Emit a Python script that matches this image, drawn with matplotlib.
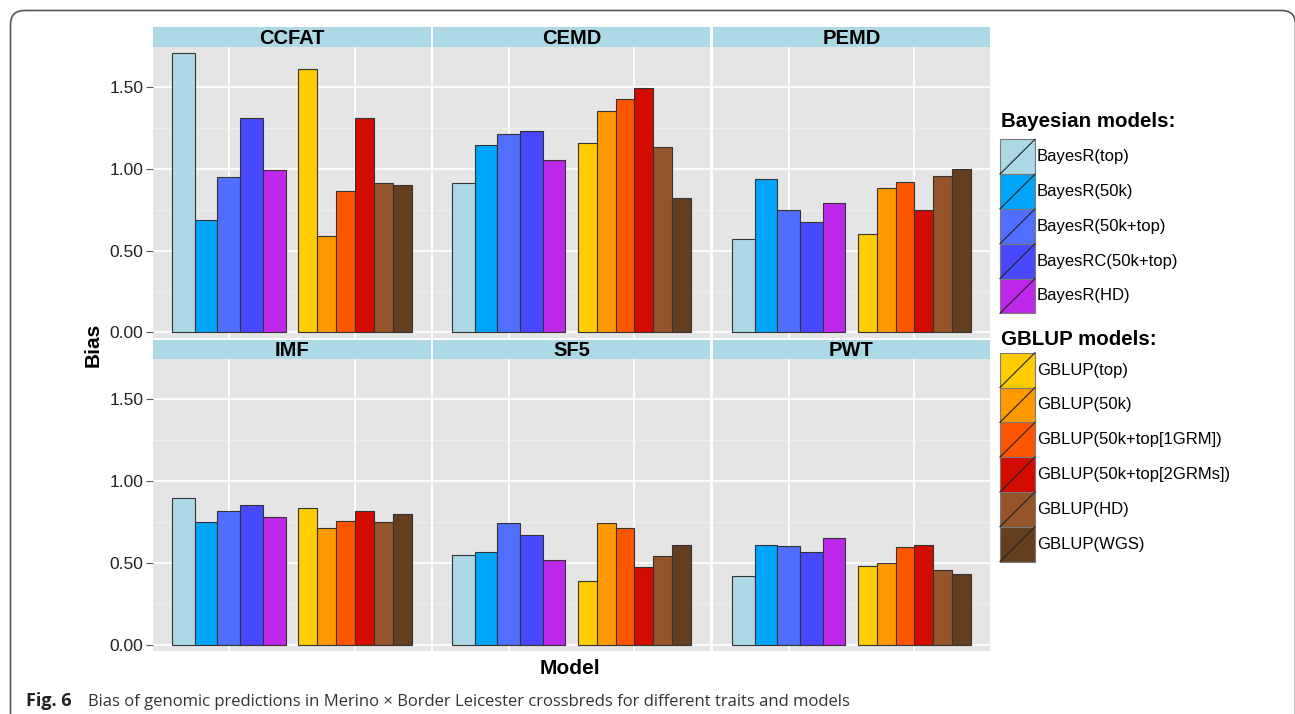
import matplotlib
matplotlib.use("Agg")
import matplotlib.pyplot as plt
from matplotlib.patches import FancyBboxPatch, Rectangle
import numpy as np

plt.rcParams["font.family"] = ["Liberation Sans", "DejaVu Sans"]

# ── data ──────────────────────────────────────────────────────────────────────
traits = ["CCFAT", "CEMD", "PEMD", "IMF", "SF5", "PWT"]

bayes_models = ["BayesR(top)", "BayesR(50k)", "BayesR(50k+top)",
                "BayesRC(50k+top)", "BayesR(HD)"]
gblup_models = ["GBLUP(top)", "GBLUP(50k)", "GBLUP(50k+top[1GRM])",
                "GBLUP(50k+top[2GRMs])", "GBLUP(HD)", "GBLUP(WGS)"]

bayes_colors = ["#ADD8E6", "#00A5FA", "#506EFF", "#4848FF", "#BE28EB"]
gblup_colors = ["#FFCC00", "#FF9900", "#FF5500", "#D40C00", "#94552B", "#633F20"]

ccfat_bayes = [1.709, 0.685, 0.951, 1.311, 0.990]
ccfat_gblup = [1.612, 0.587, 0.864, 1.311, 0.911, 0.902]
cemd_bayes = [0.912, 1.143, 1.212, 1.229, 1.055]
cemd_gblup = [1.161, 1.351, 1.427, 1.492, 1.131, 0.820]
pemd_bayes = [0.569, 0.939, 0.751, 0.673, 0.794]
pemd_gblup = [0.600, 0.884, 0.918, 0.747, 0.955, 1.002]
imf_bayes = [0.898, 0.754, 0.817, 0.858, 0.783]
imf_gblup = [0.835, 0.713, 0.758, 0.817, 0.754, 0.803]
sf5_bayes = [0.551, 0.569, 0.746, 0.673, 0.520]
sf5_gblup = [0.392, 0.746, 0.713, 0.480, 0.545, 0.610]
pwt_bayes = [0.423, 0.612, 0.608, 0.571, 0.652]
pwt_gblup = [0.486, 0.502, 0.600, 0.612, 0.459, 0.435]

bias_bayes = [ccfat_bayes, cemd_bayes, pemd_bayes, imf_bayes, sf5_bayes, pwt_bayes]
bias_gblup = [ccfat_gblup, cemd_gblup, pemd_gblup, imf_gblup, sf5_gblup, pwt_gblup]

yticks = [0.0, 0.5, 1.0, 1.5]

# ── figure in pixel units ─────────────────────────────────────────────────────
W, H = 1295, 714
fig = plt.figure(figsize=(W / 100, H / 100), dpi=100)
fig.patch.set_facecolor("white")

def px(x0, y0, x1, y1):
    return [x0 / W, 1 - y1 / H, (x1 - x0) / W, (y1 - y0) / H]

# overlay axes for frame, labels, legend
ov = fig.add_axes([0, 0, 1, 1])
ov.set_xlim(0, W)
ov.set_ylim(H, 0)
ov.axis("off")
ov.patch.set_alpha(0)

frame = FancyBboxPatch((10.5, 10.5), 1285, 800,
                       boxstyle="round,pad=0,rounding_size=14",
                       fc="none", ec="#555555", lw=1.2, clip_on=False)
ov.add_patch(frame)

cols = [(153, 431), (433, 710), (713, 990)]
rows = [((27, 47), (47, 338)), ((340, 359), (359, 651))]

EDGE = "#333333"

def dodge(center, n, total=0.9):
    w = total / n
    return center - total / 2 + w / 2 + w * np.arange(n), w

for k, trait in enumerate(traits):
    r, c = divmod(k, 3)
    (sy0, sy1), (py0, py1) = rows[r]
    x0, x1 = cols[c]

    ax = fig.add_axes(px(x0, py0, x1, py1))
    ax.set_facecolor("#E5E5E5")
    ax.set_xlim(0.4, 2.6)
    ax.set_ylim(-0.034, 1.745)
    ax.set_yticks(yticks)
    ax.set_yticks([0.25, 0.75, 1.25], minor=True)
    ax.set_xticks([1, 2])
    ax.grid(True, which="major", color="white", lw=1.3)
    ax.grid(True, which="minor", axis="y", color="#F2F2F2", lw=0.6)
    ax.set_axisbelow(True)
    for s in ax.spines.values():
        s.set_visible(False)
    ax.tick_params(axis="x", length=0, labelbottom=False)
    ax.tick_params(axis="y", which="minor", length=0)
    if c == 0:
        ax.set_yticklabels([f"{v:.2f}" for v in yticks])
        ax.tick_params(axis="y", which="major", length=5, color="#555555",
                       labelsize=12.5, labelcolor="#222222", pad=2)
    else:
        ax.tick_params(axis="y", which="major", length=0, labelleft=False)

    xb, wb = dodge(1, len(bias_bayes[k]))
    ax.bar(xb, bias_bayes[k], width=wb, color=bayes_colors,
           edgecolor=EDGE, lw=0.8, zorder=3)
    xg, wg = dodge(2, len(bias_gblup[k]))
    ax.bar(xg, bias_gblup[k], width=wg, color=gblup_colors,
           edgecolor=EDGE, lw=0.8, zorder=3)

    sax = fig.add_axes(px(x0, sy0, x1, sy1))
    sax.set_facecolor("#ADD8E6")
    sax.set_xticks([])
    sax.set_yticks([])
    for s in sax.spines.values():
        s.set_visible(False)
    sax.text(0.5, 0.45, trait, transform=sax.transAxes, ha="center",
             va="center", fontsize=14.5, fontweight="bold", color="black")

# axis titles
ov.text(93, 345, "Bias", rotation=90, ha="center", va="center",
        fontsize=15, fontweight="bold")
ov.text(570, 668, "Model", ha="center", va="center",
        fontsize=15, fontweight="bold")

# ── legends ───────────────────────────────────────────────────────────────────
def legend_block(title, names, colors, title_base, key_top):
    ov.text(1001, title_base, title, ha="left", va="baseline",
            fontsize=14.8, fontweight="bold")
    kh = 34.8
    for i, (nm, col) in enumerate(zip(names, colors)):
        ty = key_top + i * kh
        ov.add_patch(Rectangle((1000, ty), 35, kh, fc=col, ec="#7a7a7a",
                               lw=0.8, zorder=3))
        ov.plot([1000, 1035], [ty + kh, ty], color="#222222", lw=0.8, zorder=4)
        ov.text(1037, ty + kh / 2, nm, ha="left", va="center", fontsize=12)

legend_block("Bayesian models:", bayes_models, bayes_colors, 127, 139.3)
legend_block("GBLUP models:", gblup_models, gblup_colors, 345, 352.7)

# ── caption ───────────────────────────────────────────────────────────────────
ov.text(26, 706, "Fig. 6", ha="left", va="baseline", fontsize=13,
        fontweight="bold", family=["Open Sans", "DejaVu Sans"], color="#222222")
ov.text(88, 706,
        "Bias of genomic predictions in Merino \u00d7 Border Leicester crossbreds "
        "for different traits and models",
        ha="left", va="baseline", fontsize=12,
        family=["Open Sans", "DejaVu Sans"], color="#333333")

fig.savefig("out.png", dpi=100)
